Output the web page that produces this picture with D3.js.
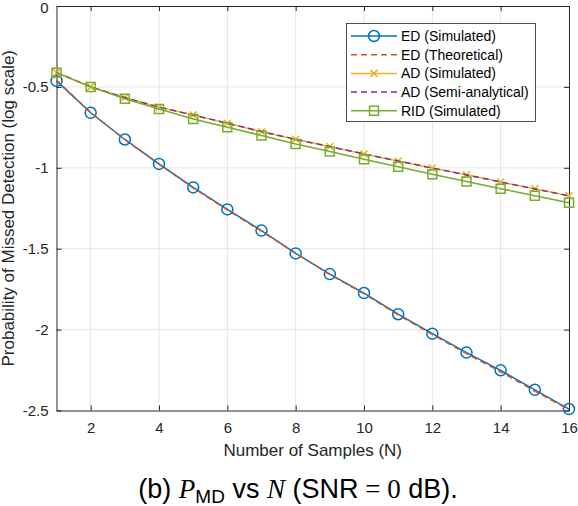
<!DOCTYPE html>
<html>
<head>
<meta charset="utf-8">
<script src="https://cdn.jsdelivr.net/npm/d3@7"></script>
<style>
  html, body { margin: 0; padding: 0; background: #fff; }
  svg { display: block; font-family: "Liberation Sans", Arial, sans-serif; }
</style>
</head>
<body>
<div id="chart"></div>
<script>
// values (log10 of P_MD)
const samples = [1, 2, 3, 4, 5, 6, 7, 8, 9, 10, 11, 12, 13, 14, 15, 16];
const edSimulated = [-0.463, -0.660, -0.825, -0.976, -1.121, -1.257, -1.388, -1.529, -1.657, -1.774, -1.905, -2.025, -2.142, -2.252, -2.372, -2.491];
const edTheoretical = [-0.458, -0.658, -0.826, -0.978, -1.124, -1.260, -1.392, -1.527, -1.660, -1.779, -1.909, -2.030, -2.149, -2.261, -2.380, -2.495];
const adSimulated = [-0.412, -0.500, -0.566, -0.626, -0.673, -0.725, -0.777, -0.824, -0.868, -0.915, -0.958, -1.001, -1.043, -1.088, -1.130, -1.173];
const adSemiAnalytical = [-0.410, -0.499, -0.566, -0.625, -0.674, -0.724, -0.776, -0.824, -0.869, -0.914, -0.958, -1.002, -1.044, -1.088, -1.131, -1.174];
const ridSimulated = [-0.412, -0.500, -0.573, -0.637, -0.698, -0.750, -0.800, -0.853, -0.899, -0.947, -0.994, -1.040, -1.084, -1.129, -1.173, -1.216];

const xTicks = [2, 4, 6, 8, 10, 12, 14, 16];
const yTicks = [0, -0.5, -1, -1.5, -2, -2.5];
const yTickLabels = ['0', '-0.5', '-1', '-1.5', '-2', '-2.5'];

const seriesNames = ['ED (Simulated)', 'ED (Theoretical)', 'AD (Simulated)', 'AD (Semi-analytical)', 'RID (Simulated)'];

function drawChart() {
    const width = 578, height = 506;
    const axisColor = '#262626';

    const series = [
        { name: seriesNames[0], values: edSimulated, color: '#0072BD', dash: null, marker: 'circle' },
        { name: seriesNames[1], values: edTheoretical, color: '#D95319', dash: '6,4', marker: null },
        { name: seriesNames[2], values: adSimulated, color: '#EDB120', dash: null, marker: 'x' },
        { name: seriesNames[3], values: adSemiAnalytical, color: '#7E2F8E', dash: '6,4', marker: null },
        { name: seriesNames[4], values: ridSimulated, color: '#77AC30', dash: null, marker: 'square' }
    ];

    const svg = d3.select('#chart')
        .append('svg')
        .attr('width', width)
        .attr('height', height);

    const x = d3.scaleLinear().domain([1, 16]).range([56.5, 569]);
    const y = d3.scaleLinear().domain([0, -2.5]).range([6, 410.5]);
    const [x0, x1] = x.range();
    const [y0, y1] = y.range();

    // grid
    const grid = svg.append('g').attr('stroke', '#e5e5e5').attr('stroke-width', 1);
    grid.selectAll('line.vx')
        .data(xTicks.filter(t => t < 16))
        .enter().append('line')
        .attr('x1', d => x(d)).attr('x2', d => x(d))
        .attr('y1', y0).attr('y2', y1);
    grid.selectAll('line.hy')
        .data(yTicks.filter(t => t !== 0 && t !== -2.5))
        .enter().append('line')
        .attr('x1', x0).attr('x2', x1)
        .attr('y1', d => y(d)).attr('y2', d => y(d));

    // axes (MATLAB style, ticks inside, box on)
    const bottom = svg.append('g')
        .attr('transform', `translate(0,${y1})`)
        .call(d3.axisBottom(x).tickValues(xTicks).tickSizeInner(-5).tickSizeOuter(0).tickPadding(12));
    const left = svg.append('g')
        .attr('transform', `translate(${x0},0)`)
        .call(d3.axisLeft(y).tickValues(yTicks).tickFormat((d, i) => yTickLabels[i])
            .tickSizeInner(-5).tickSizeOuter(0).tickPadding(8));
    const top = svg.append('g')
        .attr('transform', `translate(0,${y0})`)
        .call(d3.axisTop(x).tickValues(xTicks).tickSizeInner(-5).tickSizeOuter(0).tickFormat(''));
    const right = svg.append('g')
        .attr('transform', `translate(${x1},0)`)
        .call(d3.axisRight(y).tickValues(yTicks).tickSizeInner(-5).tickSizeOuter(0).tickFormat(''));

    [bottom, left, top, right].forEach(g => {
        g.select('.domain').attr('stroke', axisColor).attr('stroke-width', 1);
        g.selectAll('.tick line').attr('stroke', axisColor);
        g.selectAll('.tick text')
            .attr('fill', axisColor)
            .style('font-size', '15px')
            .style('font-family', '"Liberation Sans", Arial, sans-serif');
    });
    // keep the top "0" inside the picture
    left.selectAll('.tick text').filter(d => d === 0).attr('dy', '0.42em');

    // series lines
    const line = d3.line()
        .x((d, i) => x(samples[i]))
        .y(d => y(d));

    const plot = svg.append('g');
    series.forEach(s => {
        plot.append('path')
            .datum(s.values)
            .attr('d', line)
            .attr('fill', 'none')
            .attr('stroke', s.color)
            .attr('stroke-width', 1.5)
            .attr('stroke-dasharray', s.dash);
        if (s.marker) {
            plot.selectAll(null)
                .data(s.values)
                .enter()
                .append('path')
                .attr('d', (d, i) => markerPath(s.marker, x(samples[i]), y(d)))
                .attr('fill', 'none')
                .attr('stroke', s.color)
                .attr('stroke-width', 1.5);
        }
    });

    // axis labels
    svg.append('text')
        .attr('x', (x0 + x1) / 2)
        .attr('y', 456)
        .attr('text-anchor', 'middle')
        .attr('fill', axisColor)
        .style('font-size', '17px')
        .text('Number of Samples (N)');

    svg.append('text')
        .attr('transform', `translate(14,${(y0 + y1) / 2}) rotate(-90)`)
        .attr('text-anchor', 'middle')
        .attr('fill', axisColor)
        .style('font-size', '17px')
        .text('Probability of Missed Detection (log scale)');

    // legend
    const legend = svg.append('g');
    legend.append('rect')
        .attr('x', 346.5).attr('y', 23.5)
        .attr('width', 189).attr('height', 98)
        .attr('fill', '#fff')
        .attr('stroke', axisColor)
        .attr('stroke-width', 0.8);
    series.forEach((s, i) => {
        const ly = 36 + i * 18.7;
        legend.append('line')
            .attr('x1', 351).attr('x2', 397)
            .attr('y1', ly).attr('y2', ly)
            .attr('stroke', s.color)
            .attr('stroke-width', 1.5)
            .attr('stroke-dasharray', s.dash);
        if (s.marker) {
            legend.append('path')
                .attr('d', markerPath(s.marker, 374, ly))
                .attr('fill', 'none')
                .attr('stroke', s.color)
                .attr('stroke-width', 1.5);
        }
        legend.append('text')
            .attr('x', 401).attr('y', ly + 5)
            .attr('fill', '#000')
            .style('font-size', '14px')
            .text(s.name);
    });

    // caption
    const cap = svg.append('text')
        .attr('x', 298)
        .attr('y', 498)
        .attr('text-anchor', 'middle')
        .attr('fill', '#000')
        .style('font-size', '27px');
    const serif = '"Liberation Serif", "DejaVu Serif", serif';
    cap.append('tspan').text('(b) ');
    cap.append('tspan').style('font-family', serif).style('font-style', 'italic').text('P');
    cap.append('tspan').attr('dy', 5).style('font-size', '19px').text('MD');
    cap.append('tspan').attr('dy', -5).text(' vs ');
    cap.append('tspan').style('font-family', serif).style('font-style', 'italic').text('N');
    cap.append('tspan').text(' (SNR');
    cap.append('tspan').style('font-family', serif).text(' = 0');
    cap.append('tspan').text(' dB).');
}

function markerPath(type, cx, cy) {
    const p = d3.path();
    if (type === 'circle') {
        p.moveTo(cx + 5.5, cy);
        p.arc(cx, cy, 5.5, 0, 2 * Math.PI);
    } else if (type === 'square') {
        p.rect(cx - 4.5, cy - 4.5, 9, 9);
    } else if (type === 'x') {
        const r = 3.5;
        p.moveTo(cx - r, cy - r); p.lineTo(cx + r, cy + r);
        p.moveTo(cx - r, cy + r); p.lineTo(cx + r, cy - r);
    }
    return p.toString();
}

document.addEventListener('DOMContentLoaded', drawChart);
</script>
</body>
</html>
